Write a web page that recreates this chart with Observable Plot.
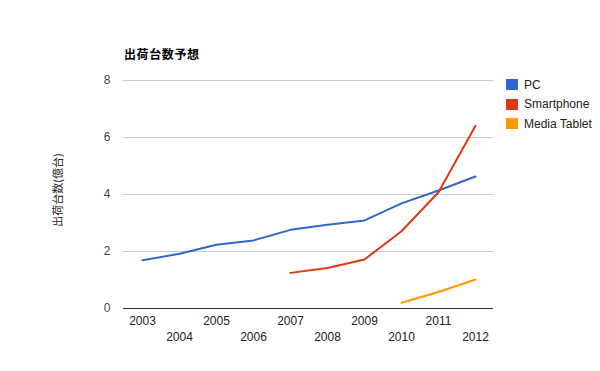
<!DOCTYPE html>
<html><head><meta charset="utf-8">
<script src="https://cdn.jsdelivr.net/npm/d3@7"></script>
<script src="https://cdn.jsdelivr.net/npm/@observablehq/plot@0.6"></script>
<style>
body{margin:0;background:#fff;font-family:Arial,"Liberation Sans","Noto Sans CJK JP",sans-serif;}
#wrap{position:relative;width:600px;height:371px;overflow:hidden;}
#wrap svg{position:absolute;left:0;top:0;}
.title{position:absolute;left:124px;top:45px;font:bold 12px "Noto Sans CJK JP",sans-serif;letter-spacing:0.6px;color:#000;white-space:nowrap;}
.ylab{position:absolute;left:57px;top:190px;font:11px "Noto Sans CJK JP",sans-serif;color:#222;white-space:nowrap;transform:translate(-50%,-50%) rotate(-90deg);}
.leg{position:absolute;left:506px;font:12px Arial,"Liberation Sans",sans-serif;color:#222;white-space:nowrap;display:flex;align-items:center;}
.leg span.sw{display:inline-block;width:12px;height:11px;margin-right:6px;}
</style></head><body><div id="wrap"></div>
<script>
const title = "出荷台数予想";
const yLabel = "出荷台数(億台)";
const years = ["2003","2004","2005","2006","2007","2008","2009","2010","2011","2012"];
const seriesNames = ["PC","Smartphone","Media Tablet"];
const colors = ["#3366cc","#dc3912","#ff9900"];
const pc = [1.69,1.92,2.24,2.39,2.76,2.94,3.09,3.69,4.14,4.63];
const smartphone = [null,null,null,null,1.25,1.42,1.72,2.71,4.08,6.41];
const tablet = [null,null,null,null,null,null,null,0.2,0.58,1.02];
const yTicks = [0,2,4,6,8];

const values = [pc, smartphone, tablet];
const rows = [];
seriesNames.forEach((s,k) => years.forEach((y,i) => {
  const v = values[k][i];
  if (v != null) rows.push({series: s, year: y, value: v});
}));
const upper = years.filter((d,i) => i % 2 === 0);
const lower = years.filter((d,i) => i % 2 === 1);

const chart = Plot.plot({
  width: 600, height: 371,
  marginLeft: 123, marginRight: 107, marginTop: 80, marginBottom: 63,
  style: {fontFamily: "Arial, 'Liberation Sans', sans-serif", fontSize: "12px", background: "transparent"},
  x: {type: "point", domain: years, padding: 0.5},
  y: {domain: [0, 8]},
  color: {domain: seriesNames, range: colors},
  marks: [
    Plot.gridY(yTicks.filter(d => d > 0), {stroke: "#ccc", strokeOpacity: 1}),
    Plot.axisY(yTicks, {tickSize: 0, tickPadding: 13, label: null, fill: "#444", fontSize: 12}),
    Plot.axisX(upper, {tickSize: 0, tickPadding: 8, label: null, fill: "#222", fontSize: 12}),
    Plot.axisX(lower, {tickSize: 0, tickPadding: 24, label: null, fill: "#222", fontSize: 12}),
    Plot.ruleY([0], {stroke: "#333"}),
    Plot.line(rows, {x: "year", y: "value", z: "series", stroke: "series", strokeWidth: 2})
  ]
});
const wrap = document.getElementById("wrap");
wrap.appendChild(chart);

const t = document.createElement("div");
t.className = "title"; t.textContent = title; wrap.appendChild(t);
const yl = document.createElement("div");
yl.className = "ylab"; yl.textContent = yLabel; wrap.appendChild(yl);
seriesNames.forEach((s,i) => {
  const d = document.createElement("div");
  d.className = "leg";
  d.style.top = (77 + i * 19.5) + "px";
  d.style.height = "15px";
  const sw = document.createElement("span");
  sw.className = "sw"; sw.style.background = colors[i];
  d.appendChild(sw);
  d.appendChild(document.createTextNode(s));
  wrap.appendChild(d);
});
</script>
</body></html>
